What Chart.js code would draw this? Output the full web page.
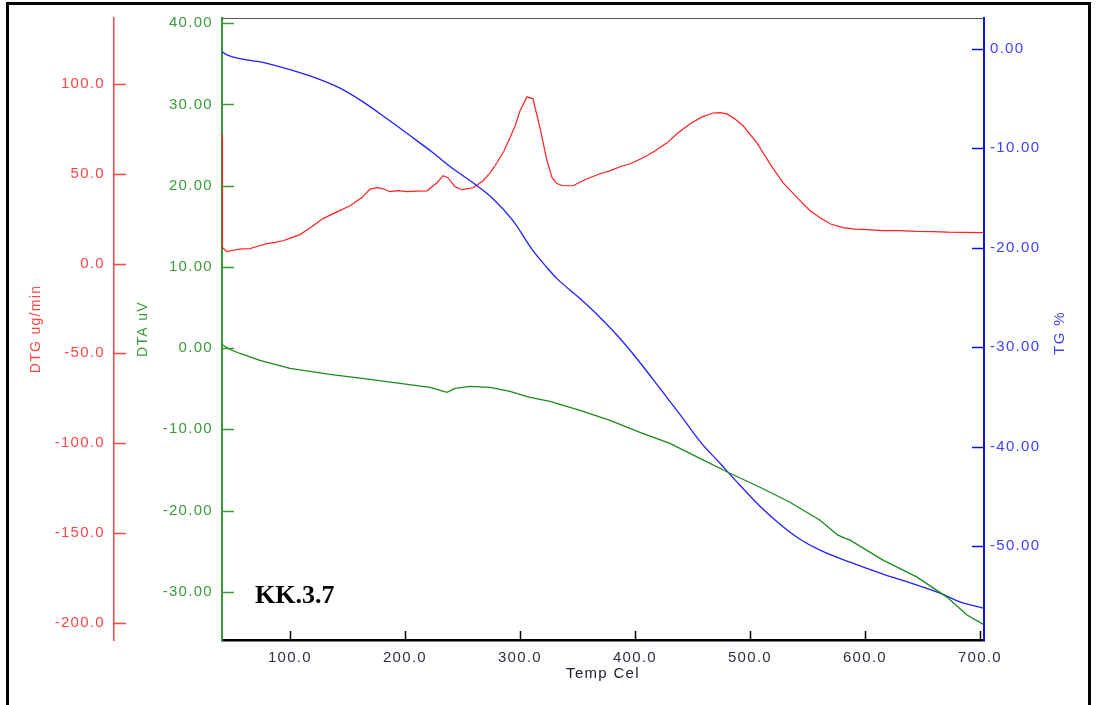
<!DOCTYPE html>
<html>
<head>
<meta charset="utf-8">
<script src="https://cdn.jsdelivr.net/npm/chart.js@4.4.1/dist/chart.umd.min.js"></script>
<style>
  html, body { margin: 0; padding: 0; background: #fff; overflow: hidden; }
  #wrap { position: relative; width: 1097px; height: 705px; }
  #frame { position: absolute; left: 6px; top: 2px; width: 1079px; height: 760px; border: 3px solid #000; pointer-events: none; }
  canvas { position: absolute; left: 0; top: 0; }
</style>
</head>
<body>
<div id="wrap">
  <canvas id="thermo" width="1097" height="705"></canvas>
  <div id="frame"></div>
</div>
<script>
// DTG curve (ug/min)
var dtgTemp = [40.9, 41.3, 45.2, 50.5, 58, 65.2, 72, 80.0, 87, 93.9, 101, 108.7, 118, 128.7, 140, 152.2,
  162.6, 169.6, 175.7, 181, 187.0, 194, 201.8, 210, 219.2, 227.9, 233.1, 237.4, 243.5, 249.6, 259.2,
  267.9, 274, 280.0, 286, 291.3, 296, 300.0, 306.1, 311.3, 317.4, 323.5, 327.9, 332, 337.4, 346.1,
  358.3, 369.6, 378, 387.0, 397, 407.0, 417, 427.9, 437, 447.9, 458, 467.9, 474, 480.0, 487, 494.0,
  506.1, 517.4, 528.7, 543.5, 552, 560.9, 570, 580.9, 591, 601.8, 615, 630.5, 645, 659.2, 672, 686, 702.6];
var dtgValues = [72.2, 8.9, 6.6, 7.4, 8.2, 8.3, 9.6, 11.1, 11.8, 12.7, 14.3, 16.1, 20.0, 25.0, 28.5, 32.2,
  36.7, 41.4, 42.2, 41.6, 40.0, 40.6, 40.0, 40.3, 40.5, 45.0, 48.9, 47.8, 42.8, 41.1, 42.2,
  46.1, 50.5, 56.1, 62.5, 70.0, 77.0, 85.0, 92.8, 91.7, 75.6, 57.2, 47.8, 44.5, 43.3, 43.3,
  47.2, 50.0, 51.6, 53.9, 55.8, 58.9, 62.5, 67.2, 72.5, 77.8, 81.5, 83.8, 84.0, 83.3, 80.5, 76.7,
  67.2, 55.5, 45.0, 35.0, 29.5, 25.5, 22.0, 20.0, 19.2, 18.9, 18.3, 18.3, 17.9, 17.8, 17.5, 17.4, 17.2];

// DTA curve (uV)
var dtaTemp = [40.9, 47.9, 56.6, 73.9, 100.0, 134.8, 169.6, 195.7, 221.8, 230.5, 236.6, 243.5, 256.5,
  273.9, 291.3, 308.7, 326.1, 352.2, 378.3, 404.3, 430.4, 456.5, 482.6, 508.7, 534.8, 560.9, 576.5,
  582.6, 587.0, 615.7, 645.3, 671.3, 688.7, 702.6];
var dtaValues = [0.45, -0.17, -0.66, -1.52, -2.50, -3.24, -3.85, -4.34, -4.84, -5.20, -5.45, -4.96, -4.72,
  -4.84, -5.33, -6.07, -6.56, -7.66, -8.90, -10.37, -11.72, -13.57, -15.41, -17.13, -18.98, -21.19, -23.03,
  -23.40, -23.65, -26.11, -28.20, -30.66, -32.87, -33.98];

// TG curve (%)
var tgTemp = [40.9, 45.2, 80.0, 117.4, 143.5, 163.5, 184.4, 207.0, 224.4, 241.8, 259.2, 276.5, 293.9,
  311.3, 323.5, 332.2, 352.2, 369.6, 387.0, 404.3, 421.7, 439.1, 456.5, 473.9, 491.3, 508.7, 526.1,
  543.5, 560.9, 587.0, 615.7, 645.3, 665.3, 682.6, 702.6];
var tgValues = [-0.30, -0.63, -1.47, -2.74, -3.97, -5.35, -7.05, -8.96, -10.47, -12.07, -13.48, -15.08, -17.29,
  -20.30, -22.00, -23.11, -25.12, -27.02, -29.13, -31.54, -34.15, -36.76, -39.46, -41.67, -43.88, -45.99, -47.79,
  -49.30, -50.40, -51.61, -52.81, -53.91, -54.72, -55.59, -56.22];

var tempTicks = [100, 200, 300, 400, 500, 600, 700];
var dtgTicks = [-200, -150, -100, -50, 0, 50, 100];
var dtaTicks = [-30, -20, -10, 0, 10, 20, 30, 40];
var tgTicks = [-50, -40, -30, -20, -10, 0];

var RED = '#ff4545', GREEN = '#3a9a3a', BLUE = '#1010e0';

var toPoints = (xs, ys) => xs.map((x, i) => ({x: x, y: ys[i]}));
var fixedTicks = (list) => (scale) => { scale.ticks = list.map(v => ({value: v})); };
var forceWidth = (w) => (scale) => { scale.width = w; };

Chart.defaults.font.family = '"Liberation Sans", Arial, sans-serif';
Chart.defaults.font.size = 15;

// tick marks, plot top edge, TG title and sample name
var decorations = {
  id: 'decorations',
  beforeDraw(chart) {
    chart.ctx.letterSpacing = '1.3px';
  },
  afterDraw(chart) {
    const ctx = chart.ctx;
    const area = chart.chartArea;
    const s = chart.scales;
    ctx.save();
    ctx.lineWidth = 1.5;

    ctx.strokeStyle = RED;
    s.dtg.ticks.forEach(t => {
      const y = Math.round(s.dtg.getPixelForValue(t.value)) + 0.5;
      ctx.beginPath(); ctx.moveTo(s.dtg.right, y); ctx.lineTo(s.dtg.right + 12, y); ctx.stroke();
    });
    ctx.strokeStyle = GREEN;
    s.dta.ticks.forEach(t => {
      const y = Math.round(s.dta.getPixelForValue(t.value)) + 0.5;
      ctx.beginPath(); ctx.moveTo(area.left, y); ctx.lineTo(area.left + 12, y); ctx.stroke();
    });
    ctx.strokeStyle = BLUE;
    s.tg.ticks.forEach(t => {
      const y = Math.round(s.tg.getPixelForValue(t.value)) + 0.5;
      ctx.beginPath(); ctx.moveTo(area.right - 12, y); ctx.lineTo(area.right, y); ctx.stroke();
    });
    ctx.strokeStyle = '#000';
    s.x.ticks.forEach(t => {
      const x = Math.round(s.x.getPixelForValue(t.value)) + 0.5;
      ctx.beginPath(); ctx.moveTo(x, area.bottom); ctx.lineTo(x, area.bottom - 9); ctx.stroke();
    });

    ctx.strokeStyle = '#555';
    ctx.lineWidth = 1;
    ctx.beginPath(); ctx.moveTo(area.left, area.top + 0.5); ctx.lineTo(area.right, area.top + 0.5); ctx.stroke();

    ctx.fillStyle = '#4040ff';
    ctx.font = '15px "Liberation Sans", Arial, sans-serif';
    ctx.textAlign = 'center';
    ctx.textBaseline = 'middle';
    ctx.translate(s.tg.right - 37, (area.top + area.bottom) / 2 + 4);
    ctx.rotate(-Math.PI / 2);
    ctx.fillText('TG %', 0, 0);
    ctx.restore();

    ctx.save();
    ctx.letterSpacing = '0px';
    ctx.fillStyle = '#000';
    ctx.font = 'bold 26px "Liberation Serif", "Times New Roman", serif';
    ctx.textAlign = 'left';
    ctx.textBaseline = 'alphabetic';
    ctx.fillText('KK.3.7', area.left + 33, area.bottom - 37);
    ctx.restore();
  }
};

new Chart(document.getElementById('thermo'), {
  type: 'scatter',
  data: {
    datasets: [
      {label: 'DTA', data: toPoints(dtaTemp, dtaValues), yAxisID: 'dta', borderColor: '#1a8a1a', borderWidth: 1.3, showLine: true, pointRadius: 0, tension: 0},
      {label: 'TG', data: toPoints(tgTemp, tgValues), yAxisID: 'tg', borderColor: '#2020ff', borderWidth: 1.3, showLine: true, pointRadius: 0, cubicInterpolationMode: 'monotone'},
      {label: 'DTG', data: toPoints(dtgTemp, dtgValues), yAxisID: 'dtg', borderColor: '#ff2020', borderWidth: 1.2, showLine: true, pointRadius: 0, tension: 0}
    ]
  },
  options: {
    responsive: false,
    animation: false,
    events: [],
    layout: {padding: {top: 17, left: 0, right: 0, bottom: 0}},
    plugins: {legend: {display: false}, tooltip: {enabled: false}},
    scales: {
      x: {
        type: 'linear', position: 'bottom', min: 40.9, max: 703.5,
        afterBuildTicks: fixedTicks(tempTicks),
        afterFit: (scale) => { scale.height = 65; },
        grid: {drawOnChartArea: false, drawTicks: false, color: 'rgba(0,0,0,0)'},
        border: {display: true, color: '#000', width: 2.5},
        ticks: {color: '#303040', padding: 9, maxRotation: 0, callback: v => v.toFixed(1)},
        title: {display: true, text: 'Temp Cel', color: '#202030', font: {size: 15}, padding: {top: 0, bottom: 22}}
      },
      dtg: {
        type: 'linear', position: 'left', weight: 2, min: -209.6, max: 136.7,
        afterBuildTicks: fixedTicks(dtgTicks),
        afterFit: forceWidth(114),
        grid: {drawOnChartArea: false, drawTicks: false, color: 'rgba(0,0,0,0)'},
        border: {display: true, color: RED, width: 1.5},
        ticks: {color: RED, padding: 9, callback: v => v.toFixed(1)},
        title: {display: true, text: 'DTG ug/min', color: RED, font: {size: 14}, padding: {top: 28, bottom: 0}}
      },
      dta: {
        type: 'linear', position: 'left', weight: 1, min: -35.94, max: 40.65,
        afterBuildTicks: fixedTicks(dtaTicks),
        afterFit: forceWidth(108),
        grid: {drawOnChartArea: false, drawTicks: false, color: 'rgba(0,0,0,0)'},
        border: {display: true, color: GREEN, width: 2},
        ticks: {color: GREEN, padding: 9, callback: v => v.toFixed(2)},
        title: {display: true, text: 'DTA uV', color: GREEN, font: {size: 14}, padding: {top: 21, bottom: 0}}
      },
      tg: {
        type: 'linear', position: 'right', min: -59.43, max: 3.08,
        afterBuildTicks: fixedTicks(tgTicks),
        afterFit: forceWidth(113),
        grid: {drawOnChartArea: false, drawTicks: false, color: 'rgba(0,0,0,0)'},
        border: {display: true, color: BLUE, width: 2},
        ticks: {color: '#4040ff', padding: 6, callback: v => v.toFixed(2)}
      }
    }
  },
  plugins: [decorations]
});
</script>
</body>
</html>
